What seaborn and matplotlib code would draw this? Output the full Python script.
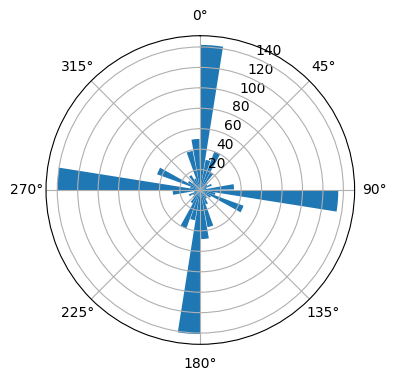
import numpy as np
import matplotlib
matplotlib.use("Agg")
import matplotlib.pyplot as plt
import seaborn as sns

# direction bins (degrees) and counts
directions = [0, 10, 20, 30, 40, 50, 60, 70, 80, 90, 100, 110,
              120, 130, 140, 150, 160, 170, 180, 190, 200, 210, 220, 230,
              240, 250, 260, 270, 280, 290, 300, 310, 320, 330, 340, 350]
counts = [142, 30, 40, 20, 10, 8, 12, 6, 33, 135, 15, 45,
          12, 8, 10, 15, 37, 48, 141, 30, 40, 15, 10, 8,
          12, 6, 27, 140, 10, 45, 14, 10, 17, 12, 39, 50]
bar_width_deg = 9

color = sns.color_palette()[0]

fig = plt.figure(figsize=(3.96, 3.8), dpi=100)
ax = fig.add_axes([0.1162, 0.0939, 0.7793, 0.8121], projection="polar")
ax.set_theta_zero_location("N")
ax.set_theta_direction(-1)
ax.bar(np.deg2rad(directions), counts, width=np.deg2rad(bar_width_deg),
       align="edge", color=color)
ax.set_ylim(0, 151)
ax.set_yticks([20, 40, 60, 80, 100, 120, 140])
fig.savefig("out.png", dpi=100)
